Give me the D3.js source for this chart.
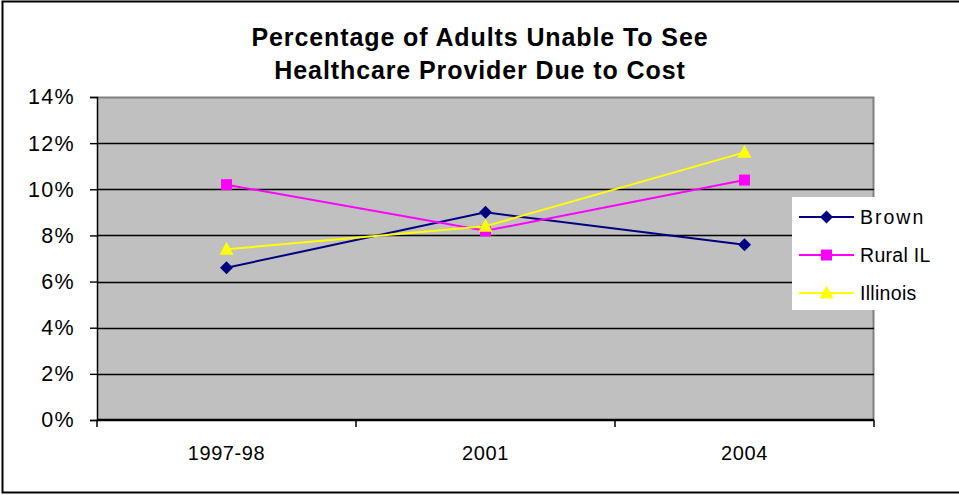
<!DOCTYPE html>
<html>
<head>
<meta charset="utf-8">
<script src="https://cdn.jsdelivr.net/npm/d3@7"></script>
<style>
  html, body { margin: 0; padding: 0; background: #fff; }
  svg { display: block; font-family: Arial, "Liberation Sans", sans-serif; }
</style>
</head>
<body>
<svg id="chart" width="959" height="495"></svg>
<script>
// Survey years and share of adults who could not see a provider because of cost (%)
const categories = ["1997-98", "2001", "2004"];
const brown   = [6.6, 9.0, 7.6];
const ruralIL = [10.2, 8.2, 10.4];
const illinois = [7.4, 8.4, 11.6];
const yTicks = [0, 2, 4, 6, 8, 10, 12, 14];

const series = [
  { name: "Brown",    values: brown,    color: "#000080", marker: "diamond" },
  { name: "Rural IL", values: ruralIL,  color: "#FF00FF", marker: "square" },
  { name: "Illinois", values: illinois, color: "#FFFF00", marker: "triangle" }
];

const svg = d3.select("#chart");
const W = 959, H = 495;
const plot = { left: 97, right: 874, top: 97, bottom: 420 };

// outer chart border
svg.append("rect")
  .attr("x", 2.5).attr("y", 1.5)
  .attr("width", W + 5).attr("height", 491)
  .attr("fill", "#fff").attr("stroke", "#000").attr("stroke-width", 2);

const x = d3.scaleBand().domain(categories).range([plot.left, plot.right]).padding(0);
const y = d3.scaleLinear().domain([0, 14]).range([plot.bottom, plot.top]);

// plot area
svg.append("rect")
  .attr("x", plot.left).attr("y", plot.top)
  .attr("width", plot.right - plot.left).attr("height", plot.bottom - plot.top)
  .attr("fill", "#C0C0C0");
// gray frame on top and right edge
svg.append("path")
  .attr("d", `M${plot.left},${plot.top + 0.5}H${plot.right - 0.5}V${plot.bottom}`)
  .attr("fill", "none").attr("stroke", "#808080").attr("stroke-width", 2);

// horizontal gridlines
svg.append("g").selectAll("line")
  .data(yTicks.filter(t => t > 0 && t < 14))
  .join("line")
  .attr("x1", plot.left).attr("x2", plot.right)
  .attr("y1", d => Math.round(y(d)) + 0.5).attr("y2", d => Math.round(y(d)) + 0.5)
  .attr("stroke", "#000").attr("stroke-width", 1.4);

// y axis
const yAxis = svg.append("g")
  .attr("transform", `translate(${plot.left},0)`)
  .call(d3.axisLeft(y).tickValues(yTicks).tickFormat(d => d + "%").tickSize(7).tickPadding(15));
yAxis.select(".domain").attr("stroke", "#000").attr("stroke-width", 1.5);
yAxis.selectAll(".tick line").attr("stroke", "#000").attr("stroke-width", 1.4);
yAxis.selectAll("text")
  .attr("font-size", 21.5).attr("letter-spacing", 1.3).attr("fill", "#000")
  .attr("font-family", "Arial, 'Liberation Sans', sans-serif");

// x axis with ticks on band boundaries
const xAxisG = svg.append("g").attr("transform", `translate(0,${plot.bottom})`);
xAxisG.append("line")
  .attr("x1", plot.left).attr("x2", plot.right)
  .attr("stroke", "#000").attr("stroke-width", 2.5);
const boundaries = categories.map(c => x(c)).concat([x(categories[categories.length - 1]) + x.bandwidth()]);
xAxisG.selectAll("line.tick")
  .data(boundaries)
  .join("line").attr("class", "tick")
  .attr("x1", d => d).attr("x2", d => d)
  .attr("y1", 0).attr("y2", 7)
  .attr("stroke", "#000").attr("stroke-width", 1.5);
xAxisG.selectAll("text")
  .data(categories)
  .join("text")
  .attr("x", d => x(d) + x.bandwidth() / 2)
  .attr("y", 40)
  .attr("text-anchor", "middle")
  .attr("font-size", 20)
  .attr("letter-spacing", 0.6)
  .attr("fill", "#000")
  .text(d => d);

// marker shapes
function markerPath(type) {
  if (type === "diamond") return "M0,-6.5L6.5,0L0,6.5L-6.5,0Z";
  if (type === "square") return "M-5.5,-5.5H5.5V5.5H-5.5Z";
  return "M0,-7.5L7,5.5H-7Z";
}

const cx = c => x(c) + x.bandwidth() / 2;
const line = d3.line().x((d, i) => cx(categories[i])).y(d => y(d));

series.forEach(s => {
  const g = svg.append("g");
  g.append("path")
    .attr("d", line(s.values))
    .attr("fill", "none").attr("stroke", s.color).attr("stroke-width", 2);
  g.selectAll("path.m")
    .data(s.values)
    .join("path").attr("class", "m")
    .attr("d", markerPath(s.marker))
    .attr("transform", (d, i) => `translate(${cx(categories[i])},${y(d)})`)
    .attr("fill", s.color);
});

// legend
const legend = svg.append("g");
legend.append("rect")
  .attr("x", 792).attr("y", 197).attr("width", 170).attr("height", 113)
  .attr("fill", "#fff");
series.forEach((s, i) => {
  const ly = 217 + i * 38;
  legend.append("line")
    .attr("x1", 799).attr("x2", 854).attr("y1", ly).attr("y2", ly)
    .attr("stroke", s.color).attr("stroke-width", 2);
  legend.append("path")
    .attr("d", markerPath(s.marker))
    .attr("transform", `translate(826.5,${ly})`)
    .attr("fill", s.color);
  legend.append("text")
    .attr("x", 860).attr("y", ly + 7)
    .attr("font-size", 19.5)
    .attr("letter-spacing", s.name === "Brown" ? 2 : 0.3)
    .attr("fill", "#000")
    .text(s.name);
});

// title
const title = svg.append("text")
  .attr("text-anchor", "middle")
  .attr("font-size", 25).attr("font-weight", "bold")
  .attr("letter-spacing", 0.9).attr("fill", "#000");
title.append("tspan").attr("x", 480).attr("y", 46).text("Percentage of Adults Unable To See");
title.append("tspan").attr("x", 480).attr("y", 79).text("Healthcare Provider Due to Cost");
</script>
</body>
</html>
